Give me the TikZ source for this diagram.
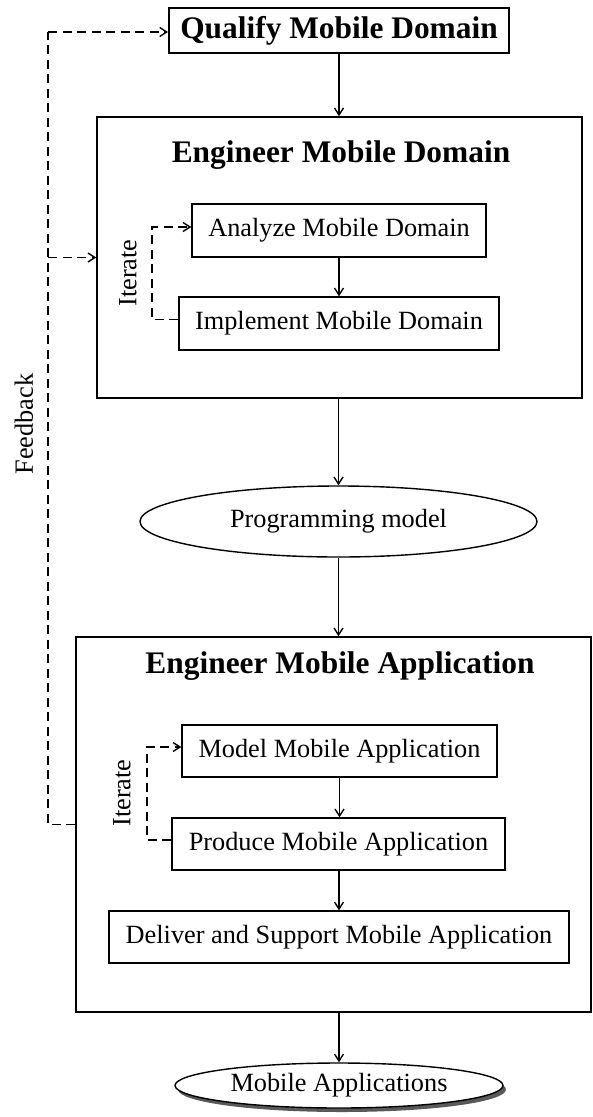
\documentclass[tikz,border=0pt]{standalone}
\usepackage{fontspec}
\setmainfont{Liberation Serif}
\usetikzlibrary{arrows.meta,shapes.geometric,shadows}
\begin{document}
\begin{tikzpicture}[x=1pt,y=-1pt,
  box/.style={draw,line width=1.4pt,rectangle,inner sep=0pt,align=center,font=\fontsize{26.3}{30}\selectfont},
  bigbox/.style={draw,line width=1.5pt,rectangle,inner sep=0pt},
  title/.style={font=\bfseries\fontsize{31.4}{36}\selectfont,inner sep=0pt,anchor=base},
  oval/.style={draw,line width=1.4pt,ellipse,inner sep=0pt,font=\fontsize{26.3}{30}\selectfont},
  lbl/.style={font=\fontsize{26.3}{30}\selectfont,inner sep=0pt,rotate=90},
  arr/.style={line width=1.4pt,-{Straight Barb[length=7pt,width=9pt,line width=1.4pt]}},
  dsh/.style={line width=1.4pt,dash pattern=on 9pt off 5.5pt},
  darr/.style={dsh,-{Straight Barb[length=7pt,width=9pt,line width=1.4pt]}}
]
\useasboundingbox (0,0) rectangle (593,1117);
\fill[white] (0,0) rectangle (593,1117);

\node[box,line width=2pt,minimum width=340pt,minimum height=45pt,font=\bfseries\fontsize{31.4}{36}\selectfont] (qual) at (339,30.5) {Qualify Mobile Domain};

\node[bigbox,minimum width=485pt,minimum height=281pt] (emd) at (339.5,257.5) {};
\node[title] (emdt) at (341,162) {Engineer Mobile Domain};
\node[box,minimum width=294pt,minimum height=53pt] (ana) at (339,230.5) {Analyze Mobile Domain};
\node[box,minimum width=320pt,minimum height=53pt] (imp) at (339,323.5) {Implement Mobile Domain};
\node[lbl] (it1) at (128,273) {Iterate};

\node[oval,minimum width=397pt,minimum height=71pt] (pm) at (338.5,521.5) {Programming model};

\node[bigbox,minimum width=515pt,minimum height=375pt] (ema) at (333.5,824.5) {};
\node[title] (emat) at (340,673) {Engineer Mobile Application};
\node[box,minimum width=315pt,minimum height=52pt] (mod) at (339.5,751) {Model Mobile Application};
\node[box,minimum width=333pt,minimum height=52pt] (prod) at (338.5,844) {Produce Mobile Application};
\node[box,minimum width=460pt,minimum height=52pt] (del) at (339,937) {Deliver and Support Mobile Application};
\node[lbl] (it2) at (122,793) {Iterate};

\node[oval,minimum width=328pt,minimum height=45pt,drop shadow={shadow xshift=3pt,shadow yshift=-4pt,fill=black!65,opacity=1}, fill=white] (ma) at (339,1085.5) {Mobile Applications};

\node[lbl] (fb) at (24,424) {Feedback};

% main flow
\draw[arr] (qual.south) -- (qual.south |- emd.north);
\draw[arr] (emd.south -| pm.north) -- (pm.north);
\draw[arr] (ana.south) -- (ana.south |- imp.north);
\draw[arr] (pm.south) -- (pm.south |- ema.north);
\draw[arr] (mod.south) -- (mod.south |- prod.north);
\draw[arr] (prod.south -| del.north) -- (del.north);
\draw[arr] (ema.south -| ma.north) -- (ma.north);

% iterate loops
\coordinate (c1a) at (152,319);
\coordinate (c1b) at (152,227);
\draw[darr] ([yshift=4pt]imp.west) -- ([yshift=4pt]imp.west -| c1a) -- (c1b) -- (c1b -| ana.west);
\coordinate (c2a) at (147,840);
\coordinate (c2b) at (147,747);
\draw[darr] ([yshift=4pt]prod.west) -- ([yshift=4pt]prod.west -| c2a) -- (c2b) -- (c2b -| mod.west);

% feedback
\coordinate (fbot) at (48,824.5);
\coordinate (ftop) at (48,32);
\draw[dsh] (ema.west) -- (fbot) -- (ftop);
\draw[darr] (ftop) -- (ftop -| qual.west);
\draw[darr] (emd.west -| fbot) -- (emd.west);
\end{tikzpicture}
\end{document}
